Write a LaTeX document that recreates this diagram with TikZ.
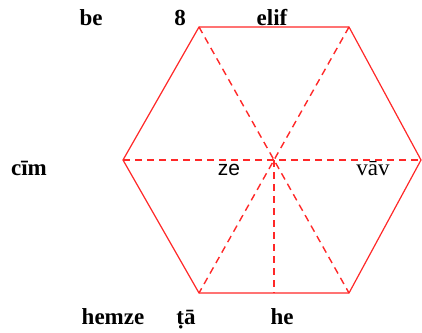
\documentclass[tikz,border=0pt]{standalone}
\usepackage{fontspec}
\setmainfont{Liberation Serif}
\newfontfamily\zesans{Liberation Sans}
\definecolor{hexred}{RGB}{255,40,40}
\begin{document}
\begin{tikzpicture}[x=1pt,y=-1pt,
  edge/.style={draw=hexred,line width=1.2pt},
  dline/.style={draw=hexred,line width=1.4pt,dash pattern=on 7pt off 5pt},
  lbl/.style={anchor=base,inner sep=0pt,font=\fontsize{23}{26}\selectfont\bfseries},
  lblr/.style={anchor=base,inner sep=0pt,font=\fontsize{23}{26}\selectfont}]
\useasboundingbox (0,0) rectangle (422,332);
\coordinate (tl) at (199,27);
\coordinate (tr) at (349,27);
\coordinate (r) at (421,160);
\coordinate (br) at (349,293);
\coordinate (bl) at (199,293);
\coordinate (l) at (123,160);
\coordinate (c) at (274,160);
\coordinate (bm) at (274,293);
\draw[edge] (tl) -- (tr) -- (r) -- (br) -- (bl) -- (l) -- cycle;
\draw[dline] (l) -- (r);
\draw[dline] (tl) -- (br);
\draw[dline] (tr) -- (bl);
\draw[dline] (c) -- (bm);
\node[lbl] (be) at (91,25) {be};
\node[lbl] (eight) at (180,25) {8};
\node[lbl] (elif) at (272,25) {elif};
\node[lbl] (cim) at (29,175) {cīm};
\node[lblr,font=\fontsize{21}{24}\selectfont\zesans] (ze) at (229,175) {ze};
\node[lblr] (vav) at (373,175) {vāv};
\node[lbl] (hemze) at (113,324) {hemze};
\node[lbl] (ta) at (186,324) {ṭā};
\node[lbl] (he) at (282,324) {he};
\end{tikzpicture}
\end{document}
